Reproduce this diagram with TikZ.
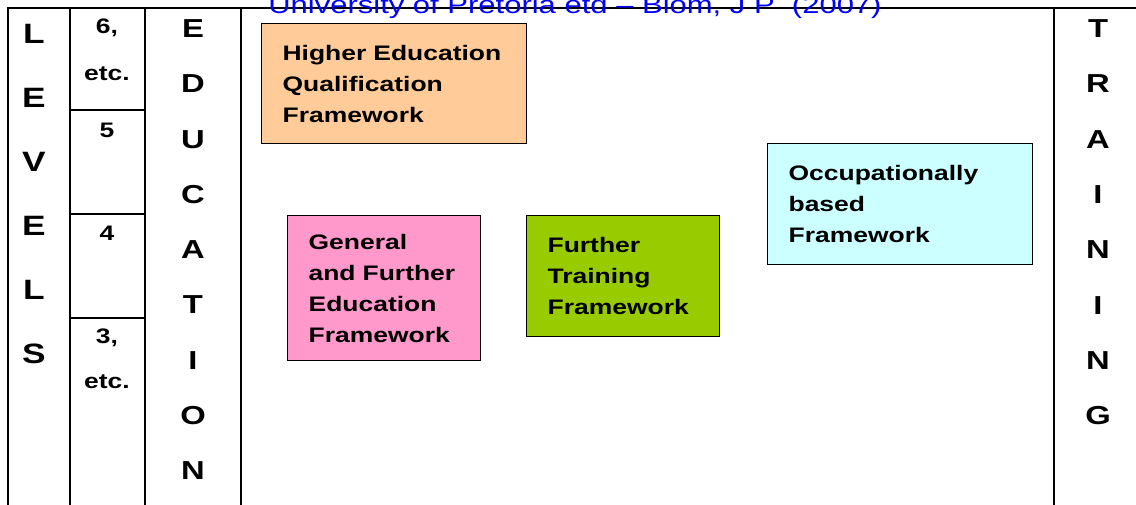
\documentclass[tikz,border=0pt]{standalone}
\usepackage{fontspec}
\setmainfont[FakeStretch=1.26]{Liberation Sans}
\definecolor{heqfpeach}{HTML}{FFCC99}
\definecolor{gfepink}{HTML}{FF99CC}
\definecolor{ftfgreen}{HTML}{99CC00}
\definecolor{obfcyan}{HTML}{CCFFFF}
\begin{document}
\begin{tikzpicture}[x=1pt,y=-1pt,
  frbox/.style={draw=black, line width=1.2pt, anchor=north west, align=left,
    inner xsep=21pt, inner ysep=0pt, font=\bfseries\fontsize{21}{31}\selectfont},
  bigletter/.style={anchor=base, font=\bfseries\fontsize{26}{26}\selectfont},
  lvlnum/.style={anchor=base, font=\bfseries\fontsize{21}{21}\selectfont}]

\useasboundingbox (0,0) rectangle (1136,504);
\clip (0,0) rectangle (1136,504);

% frame of the table
\draw[line width=2pt] (1136,8) -- (8,8) -- (8,510);
\draw[line width=2pt] (70,8) -- (70,510);
\draw[line width=2pt] (145,8) -- (145,510);
\draw[line width=2pt] (241,8) -- (241,510);
\draw[line width=2pt] (1054,8) -- (1054,510);
\draw[line width=2pt] (70,110) -- (145,110);
\draw[line width=2pt] (70,214) -- (145,214);
\draw[line width=2pt] (70,318) -- (145,318);

% source line, cut at the top
\node[anchor=base, text=blue, font=\fontsize{24.6}{24.6}\selectfont] (src) at (575,13) {University of Pretoria etd – Blom, J P\ \ (2007)};

% LEVELS
\node[bigletter, font=\bfseries\fontsize{28}{28}\selectfont] (lvL) at (34,43) {L};
\node[bigletter, font=\bfseries\fontsize{28}{28}\selectfont] (lvE) at (34,107) {E};
\node[bigletter, font=\bfseries\fontsize{28}{28}\selectfont] (lvV) at (34,171) {V};
\node[bigletter, font=\bfseries\fontsize{28}{28}\selectfont] (lvEE) at (34,235) {E};
\node[bigletter, font=\bfseries\fontsize{28}{28}\selectfont] (lvLL) at (34,299) {L};
\node[bigletter, font=\bfseries\fontsize{28}{28}\selectfont] (lvS) at (34,363) {S};

% level numbers
\node[lvlnum] (six) at (107,33) {6,};
\node[lvlnum] (sixetc) at (107,80) {etc.};
\node[lvlnum] (five) at (107,137) {5};
\node[lvlnum] (four) at (107,240) {4};
\node[lvlnum] (three) at (107,343) {3,};
\node[lvlnum] (threeetc) at (107,388) {etc.};

% EDUCATION
\node[bigletter] (edE) at (193,37) {E};
\node[bigletter] (edD) at (193,92) {D};
\node[bigletter] (edU) at (193,148) {U};
\node[bigletter] (edC) at (193,203) {C};
\node[bigletter] (edA) at (193,258) {A};
\node[bigletter] (edT) at (193,313) {T};
\node[bigletter] (edI) at (193,369) {I};
\node[bigletter] (edO) at (193,424) {O};
\node[bigletter] (edN) at (193,479) {N};

% TRAINING
\node[bigletter] (trT) at (1098,37) {T};
\node[bigletter] (trR) at (1098,92) {R};
\node[bigletter] (trA) at (1098,148) {A};
\node[bigletter] (trI) at (1098,203) {I};
\node[bigletter] (trN) at (1098,258) {N};
\node[bigletter] (trII) at (1098,314) {I};
\node[bigletter] (trNN) at (1098,369) {N};
\node[bigletter] (trG) at (1098,424) {G};

% frameworks
\node[frbox, fill=heqfpeach, text width=223pt, minimum height=120pt] (heqf) at (261,23)
  {Higher Education\\Qualification\\Framework};
\node[frbox, fill=gfepink, text width=151pt, minimum height=145pt] (gfe) at (287,215)
  {General\\and Further\\Education\\Framework};
\node[frbox, fill=ftfgreen, text width=151pt, minimum height=121pt] (ftf) at (526,215)
  {Further\\Training\\Framework};
\node[frbox, fill=obfcyan, text width=223pt, minimum height=121pt] (obf) at (767,143)
  {Occupationally\\based\\Framework};
\end{tikzpicture}
\end{document}
